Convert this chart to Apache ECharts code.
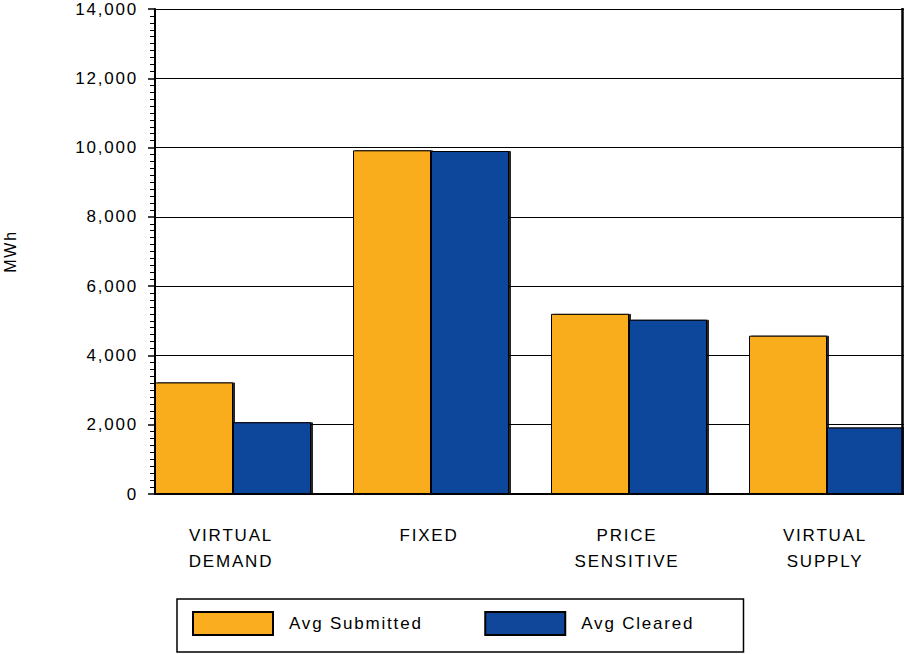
<!DOCTYPE html>
<html>
<head>
<meta charset="utf-8">
<style>
  html, body { margin: 0; padding: 0; background: #fff; }
  #chart { width: 904px; height: 654px; }
  #chart svg text { letter-spacing: 1.8px; }
</style>
<script src="https://cdn.jsdelivr.net/npm/echarts@6/dist/echarts.min.js"></script>
</head>
<body>
<div id="chart"></div>
<script>
var categories = ['VIRTUAL\nDEMAND', 'FIXED', 'PRICE\nSENSITIVE', 'VIRTUAL\nSUPPLY'];
var avgSubmitted = [3220, 9920, 5200, 4570];
var avgCleared = [2070, 9900, 5030, 1920];
var yTicks = [0, 2000, 4000, 6000, 8000, 10000, 12000, 14000];

var FONT = '"Liberation Sans", Arial, sans-serif';
var chart = echarts.init(document.getElementById('chart'), null, { renderer: 'svg' });

var barStyle = function (color) {
  return {
    color: color,
    borderColor: '#000',
    borderWidth: 1,
    shadowColor: 'rgba(0,0,0,0.85)',
    shadowOffsetX: 2,
    shadowOffsetY: 0,
    shadowBlur: 0
  };
};

chart.setOption({
  animation: false,
  backgroundColor: '#fff',
  grid: {
    left: 155, top: 9, width: 792, height: 485,
    containLabel: false, outerBoundsMode: 'none'
  },
  xAxis: {
    type: 'category',
    data: categories,
    axisLine: { show: true, lineStyle: { color: '#000', width: 2 } },
    axisTick: { show: false },
    axisLabel: {
      color: '#000', fontFamily: FONT, fontSize: 17, lineHeight: 26,
      margin: 28, interval: 0, padding: [0, 46, 0, 0]
    },
    splitLine: { show: false }
  },
  yAxis: {
    type: 'value',
    min: yTicks[0],
    max: yTicks[yTicks.length - 1],
    interval: 2000,
    name: 'MWh',
    nameLocation: 'middle',
    nameGap: 137,
    nameRotate: 90,
    nameTextStyle: { color: '#000', fontFamily: FONT, fontSize: 16 },
    axisLine: { show: true, lineStyle: { color: '#000', width: 2 } },
    axisTick: { show: true, length: 7, lineStyle: { color: '#000', width: 1.5 } },
    minorTick: { show: true, splitNumber: 10, length: 5, lineStyle: { color: '#000', width: 1 } },
    axisLabel: {
      color: '#000', fontFamily: FONT, fontSize: 17, margin: 17,
      formatter: function (v) { return v.toLocaleString('en-US'); }
    },
    splitLine: { show: true, lineStyle: { color: '#000', width: 1 } }
  },
  legend: {
    data: ['Avg Submitted', 'Avg Cleared'],
    left: 177,
    top: 599,
    orient: 'horizontal',
    itemWidth: 80,
    itemHeight: 23,
    itemGap: 85,
    padding: [12, 69, 16, 15],
    borderColor: '#000',
    borderWidth: 1.5,
    textStyle: { color: '#000', fontFamily: FONT, fontSize: 17, padding: [8, 0, 0, 11] },
    icon: 'rect'
  },
  graphic: [{
    type: 'line',
    shape: { x1: 902.5, y1: 8, x2: 902.5, y2: 494 },
    style: { stroke: '#000', lineWidth: 2.5 },
    z: 100
  }],
  series: [
    {
      name: 'Avg Submitted', type: 'bar', data: avgSubmitted,
      barWidth: 78, barGap: '0%', itemStyle: barStyle('#F9AD1F')
    },
    {
      name: 'Avg Cleared', type: 'bar', data: avgCleared,
      barWidth: 78, barGap: '0%', itemStyle: barStyle('#11479B')
    },
    {
      name: 'spacer', type: 'bar', data: ['-', '-', '-', '-'],
      barWidth: 42, barGap: '0%', silent: true, itemStyle: { opacity: 0 }
    }
  ]
});
</script>
</body>
</html>
